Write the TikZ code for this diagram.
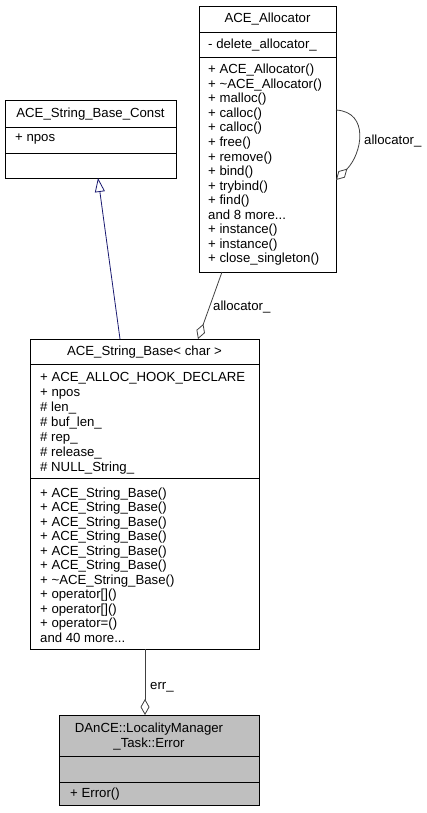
\documentclass[tikz,border=0pt]{standalone}
\usepackage{fontspec}
\setmainfont{Liberation Sans}
\usetikzlibrary{arrows.meta}
\definecolor{edgegray}{HTML}{404040}
\definecolor{inhblue}{HTML}{191970}
\definecolor{boxgray}{HTML}{BFBFBF}
\newcommand\mydots{...}
\begin{document}
\begin{tikzpicture}[x=1pt,y=-1pt,
  classbox/.style={draw=black, line width=0.8pt, fill=white, inner sep=0pt, outer sep=0pt, anchor=north west},
  sepline/.style={draw=black, line width=0.8pt},
  txt/.style={anchor=base west, inner sep=0pt, font=\fontsize{13.2}{14.5}\selectfont},
  ttl/.style={anchor=base, inner sep=0pt, font=\fontsize{13.2}{14.5}\selectfont},
  agg/.style={draw=edgegray, line width=0.8pt, -{Diamond[open, length=16pt, width=9pt, line width=0.8pt]}},
  inh/.style={draw=inhblue, line width=0.8pt, -{Triangle[open, length=14pt, width=10pt, line width=0.8pt]}}
]
\useasboundingbox (0,0) rectangle (427,813);

% ---------- ACE_Allocator ----------
\node[classbox, minimum width=137pt, minimum height=266pt] (alloc) at (199,6) {};
\draw[sepline] (199,32) -- (336,32);
\draw[sepline] (199,57) -- (336,57);
\node[ttl] (allocT) at (267.5,23) {ACE\_Allocator};
\node[txt] (allocA) at (208,49) {- delete\_allocator\_};
\foreach \t [count=\i] in {{+ ACE\_Allocator()},{+ \textasciitilde ACE\_Allocator()},{+ malloc()},{+ calloc()},{+ calloc()},{+ free()},{+ remove()},{+ bind()},{+ trybind()},{+ find()},{and 8 more\mydots},{+ instance()},{+ instance()},{+ close\_singleton()}}
  \node[txt] (allocM\i) at (208,{74+14.5*(\i-1)}) {\t};

% ---------- ACE_String_Base_Const ----------
\node[classbox, minimum width=171pt, minimum height=78pt] (sconst) at (5,100) {};
\draw[sepline] (5,127) -- (176,127);
\draw[sepline] (5,153) -- (176,153);
\node[ttl] (sconstT) at (90.5,118) {ACE\_String\_Base\_Const};
\node[txt] (sconstA) at (15,142) {+ npos};

% ---------- ACE_String_Base<char> ----------
\node[classbox, minimum width=229pt, minimum height=310pt] (sbase) at (30,339) {};
\draw[sepline] (30,364) -- (259,364);
\draw[sepline] (30,478) -- (259,478);
\node[ttl] (sbaseT) at (144.5,355) {ACE\_String\_Base< char >};
\foreach \t [count=\i] in {{+ ACE\_ALLOC\_HOOK\_DECLARE},{+ npos},{\# len\_},{\# buf\_len\_},{\# rep\_},{\# release\_},{\# NULL\_String\_}}
  \node[txt] (sbaseA\i) at (40,{381+15*(\i-1)}) {\t};
\foreach \t [count=\i] in {{+ ACE\_String\_Base()},{+ ACE\_String\_Base()},{+ ACE\_String\_Base()},{+ ACE\_String\_Base()},{+ ACE\_String\_Base()},{+ ACE\_String\_Base()},{+ \textasciitilde ACE\_String\_Base()},{+ operator[]()},{+ operator[]()},{+ operator=()},{and 40 more\mydots}}
  \node[txt] (sbaseM\i) at (40,{497+14.5*(\i-1)}) {\t};

% ---------- DAnCE::LocalityManager_Task::Error ----------
\node[classbox, fill=boxgray, minimum width=200pt, minimum height=90pt] (err) at (59,715) {};
\draw[sepline] (59,756) -- (259,756);
\draw[sepline] (59,782) -- (259,782);
\node[ttl] (errT1) at (149,732) {DAnCE::LocalityManager};
\node[ttl] (errT2) at (149,747) {\_Task::Error};
\node[txt] (errM) at (70,797) {+ Error()};

% ---------- connectors ----------
\draw[inh] (sbase.north -| 120,0) -- (sconst.south -| 98,0);
\draw[agg] (alloc.south -| 222,0) -- (sbase.north -| 198,0);
\node[txt] (lblAlloc) at (213,310) {allocator\_};
\draw[agg] (alloc.east |- 0,110) .. controls (370,112) and (362,154) .. (alloc.east |- 0,180);
\node[txt] (lblSelf) at (364,145) {allocator\_};
\draw[agg] (sbase.south -| 145,0) -- (err.north -| 145,0);
\node[txt] (lblErr) at (150,689) {err\_};
\end{tikzpicture}
\end{document}
